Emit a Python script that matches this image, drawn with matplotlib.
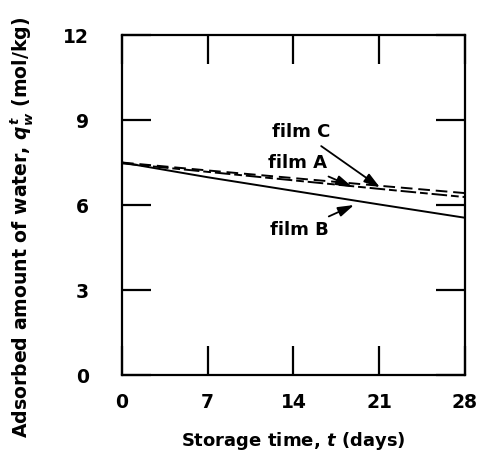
import matplotlib
matplotlib.use('Agg')
import matplotlib.pyplot as plt

days = [0, 7, 14, 21, 28]
film_a = [7.47, 7.17, 6.87, 6.57, 6.28]
film_b = [7.50, 6.98, 6.50, 6.02, 5.55]
film_c = [7.50, 7.22, 6.95, 6.68, 6.42]

plt.rcParams['font.family'] = 'DejaVu Sans'
plt.rcParams['font.weight'] = 'bold'
plt.rcParams['mathtext.fontset'] = 'dejavusans'

fig = plt.figure(figsize=(4.81, 4.57), dpi=100)
ax = fig.add_axes([0.2536, 0.1794, 0.7131, 0.744])

ax.plot(days, film_b, '-', color='black', lw=1.4)
ax.plot(days, film_a, color='black', lw=1.4, dashes=(8, 2, 4, 2))
ax.plot(days, film_c, color='black', lw=1.4, dashes=(6, 3))

ax.set_xlim(0, 28)
ax.set_ylim(0, 12)
ax.set_xticks(days)
ax.set_yticks([0, 3, 6, 9, 12])
ax.tick_params(direction='in', length=21, width=1.6, top=True, right=True, labelsize=13.5)
ax.tick_params(axis='x', pad=13)
ax.tick_params(axis='y', pad=24)
for s in ax.spines.values():
    s.set_linewidth(1.6)

ax.set_xlabel('Storage time, $t$ (days)', fontsize=13, fontweight='bold', labelpad=13)
ax.set_ylabel('Adsorbed amount of water, $q_w^t$ (mol/kg)', fontsize=13.6, fontweight='bold')
ax.yaxis.set_label_coords(-0.255, 0.435)

arrow = dict(arrowstyle='-|>,head_length=0.8,head_width=0.25', color='black', lw=1.3,
             mutation_scale=12, shrinkA=3, shrinkB=0)
ax.annotate('film C', xy=(21.06, 6.62), xytext=(17.0, 8.58), ha='right', va='center',
            fontsize=13, fontweight='bold', arrowprops=arrow)
ax.annotate('film A', xy=(18.8, 6.64), xytext=(16.75, 7.48), ha='right', va='center',
            fontsize=13, fontweight='bold', arrowprops=arrow)
ax.annotate('film B', xy=(18.94, 6.0), xytext=(16.85, 5.12), ha='right', va='center',
            fontsize=13, fontweight='bold', arrowprops=arrow)

fig.savefig('out.png', dpi=100)
